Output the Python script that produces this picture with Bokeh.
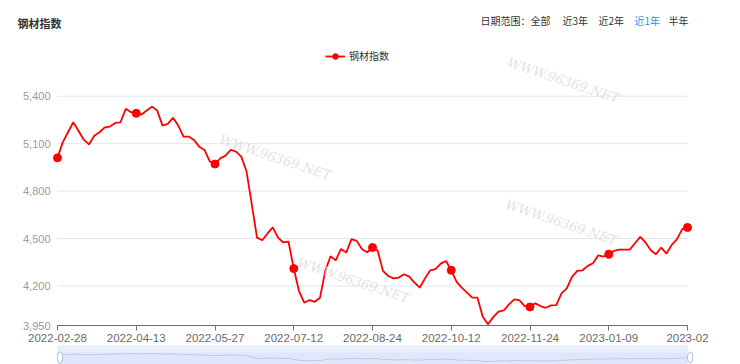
import numpy as np
from bokeh.plotting import figure
from bokeh.models import (FixedTicker, NumeralTickFormatter, Label, Legend, LegendItem,
                          ColumnDataSource, Range1d)
from bokeh.embed import file_html
from bokeh.resources import INLINE

# ---------------- data ----------------
title_text = "钢材指数"
series_name = "钢材指数"
range_label = "日期范围："
range_options = ["全部", "近3年", "近2年", "近1年", "半年"]
active_option = "近1年"
tick_dates = ["2022-02-28", "2022-04-13", "2022-05-27", "2022-07-12", "2022-08-24",
              "2022-10-12", "2022-11-24", "2023-01-09", "2023-02"]
points_per_label = 15
y_ticks = [3950, 4200, 4500, 4800, 5100, 5400]
values = [
    5010, 5108, 5172, 5235, 5182, 5125, 5095, 5150, 5172, 5203,
    5208, 5231, 5235, 5320, 5299, 5292, 5284, 5309, 5334, 5309,
    5214, 5225, 5263, 5214, 5144, 5145, 5123, 5081, 5060, 4988,
    4971, 5007, 5024, 5060, 5049, 5018, 4925, 4718, 4506, 4489,
    4532, 4570, 4506, 4475, 4481, 4310, 4168, 4094, 4111, 4100,
    4126, 4294, 4388, 4362, 4434, 4411, 4496, 4485, 4432, 4413,
    4443, 4422, 4295, 4263, 4248, 4253, 4274, 4259, 4221, 4189,
    4248, 4299, 4306, 4341, 4358, 4299, 4227, 4189, 4158, 4126,
    4126, 4005, 3958, 4003, 4037, 4045, 4084, 4115, 4109, 4073,
    4067, 4090, 4073, 4062, 4077, 4079, 4153, 4185, 4257, 4295,
    4299, 4327, 4344, 4394, 4386, 4401, 4422, 4430, 4430, 4430,
    4470, 4510, 4475, 4426, 4401, 4443, 4405, 4460, 4496, 4559,
    4570,
]
watermark_text = "WWW.96369.NET"

# ---------------- layout constants (canvas pixels) ----------------
W, H = 740, 364
PLOT_L, PLOT_R = 57, 687
PLOT_T, PLOT_B = 95.7, 325
CJK = "Noto Sans CJK SC"
LAT = "Liberation Sans"
RED = "#ff0000"

n = len(values)
ymin, ymax = min(y_ticks), max(y_ticks)
px_x = (PLOT_R - PLOT_L) / (n - 1)          # pixels per index step
u_y = (ymax - ymin) / (PLOT_B - PLOT_T)      # value units per pixel
x_lo = 0 - PLOT_L / px_x
x_hi = (n - 1) + (W - PLOT_R) / px_x
y_lo = ymin - (H - PLOT_B) * u_y
y_hi = ymax + PLOT_T * u_y


def cy_to_val(cy):
    return ymin + (PLOT_B - cy) * u_y


idx = list(range(n))
tick_pos = [i * points_per_label for i in range(len(tick_dates))]
src = ColumnDataSource(dict(x=idx, y=values))
mk_src = ColumnDataSource(dict(x=tick_pos, y=[values[i] for i in tick_pos]))

p = figure(width=W, height=H, output_backend="svg", toolbar_location=None,
           x_range=Range1d(x_lo, x_hi), y_range=Range1d(y_lo, y_hi),
           min_border=0, min_border_left=0, min_border_right=0,
           min_border_top=0, min_border_bottom=0,
           background_fill_color="white", border_fill_color="white")
p.outline_line_color = None
p.grid.grid_line_color = None

# horizontal grid lines spanning only the plotting area
p.segment(x0=[0] * len(y_ticks), x1=[n - 1] * len(y_ticks), y0=y_ticks, y1=y_ticks,
          line_color="#E0E6F1", line_width=1)

# y axis (drawn at the left edge of the plotting area)
p.yaxis.fixed_location = 0
p.yaxis.bounds = (ymin, ymax)
p.yaxis.ticker = FixedTicker(ticks=y_ticks)
p.yaxis.formatter = NumeralTickFormatter(format="0,0")
p.yaxis.axis_line_color = None
p.yaxis.major_tick_line_color = None
p.yaxis.minor_tick_line_color = None
p.yaxis.major_label_text_color = "#9a9a9a"
p.yaxis.major_label_text_font = LAT
p.yaxis.major_label_text_font_size = "11px"
p.yaxis.major_label_standoff = 1

# x axis (drawn at the bottom of the plotting area)
p.xaxis.fixed_location = ymin
p.xaxis.bounds = (0, n - 1)
p.xaxis.ticker = FixedTicker(ticks=tick_pos)
p.xaxis.major_label_overrides = {tp: d for tp, d in zip(tick_pos, tick_dates)}
p.xaxis.axis_line_color = "#6E7079"
p.xaxis.major_tick_line_color = "#6E7079"
p.xaxis.major_tick_in = 0
p.xaxis.major_tick_out = 5
p.xaxis.minor_tick_line_color = None
p.xaxis.major_label_text_color = "#6a6a6a"
p.xaxis.major_label_text_font = LAT
p.xaxis.major_label_text_font_size = "11.5px"
p.xaxis.major_label_standoff = 3

# watermarks (faint)
wm_centers = [(275, 157), (563, 80), (561, 222), (353, 280)]
for cx, cy in wm_centers:
    p.add_layout(Label(x=cx, y=H - cy, x_units="screen", y_units="screen",
                       text=watermark_text, text_font="DejaVu Serif", text_font_style="italic",
                       text_font_size="13px", text_color="#d9d9d9", text_alpha=0.8,
                       text_align="center", text_baseline="middle", angle=-0.32))

# ---------------- data-zoom slider (below the chart) ----------------
sl_top = cy_to_val(345)
sl_mid = cy_to_val(352)
p.quad(left=[0], right=[n - 1], bottom=[y_lo], top=[sl_top], fill_color="#dfe7fa", line_color=None)
p.quad(left=[0], right=[n - 1], bottom=[sl_mid], top=[sl_top], fill_color="#e9eefb", line_color=None)
vmin, vmax = min(values), max(values)
shadow_y = [cy_to_val(361) + (v - vmin) / (vmax - vmin) * (cy_to_val(353) - cy_to_val(361))
            for v in values]
p.line(idx, shadow_y, line_color="#b4c3e4", line_width=1, line_alpha=0.8)
p.ellipse(x=[0.5, n - 0.5], y=[cy_to_val(357)] * 2, width=1.0, height=11 * u_y,
          fill_color="white", line_color="#a9b6d3", line_width=1)

# ---------------- series ----------------
line_r = p.line("x", "y", source=src, line_color=RED, line_width=1.8)
dot_r = p.scatter("x", "y", source=mk_src, size=8, fill_color=RED, line_color=RED)

legend = Legend(items=[LegendItem(label=series_name, renderers=[line_r, dot_r])],
                location=(325, H - 63), orientation="horizontal",
                background_fill_alpha=0, border_line_color=None,
                padding=0, margin=0, spacing=0,
                glyph_width=20, glyph_height=14, label_height=14, label_standoff=4,
                label_text_font=CJK, label_text_font_size="10px", label_text_color="#333333")
p.add_layout(legend, "center")

# ---------------- header texts ----------------
p.add_layout(Label(x=17, y=H - 22, x_units="screen", y_units="screen",
                   text=title_text, text_font=CJK, text_font_style="bold", text_font_size="11px",
                   text_color="#333333", text_baseline="middle"))
p.add_layout(Label(x=480, y=H - 20, x_units="screen", y_units="screen",
                   text=range_label, text_font=CJK, text_font_size="10px",
                   text_color="#333333", text_baseline="middle"))
opt_x = [530, 562, 598, 634, 668]
for ox, opt in zip(opt_x, range_options):
    p.add_layout(Label(x=ox, y=H - 20, x_units="screen", y_units="screen",
                       text=opt, text_font=CJK, text_font_size="10px",
                       text_color="#1f8fe6" if opt == active_option else "#333333",
                       text_baseline="middle"))

open("out.html", "w").write(file_html(p, INLINE))
